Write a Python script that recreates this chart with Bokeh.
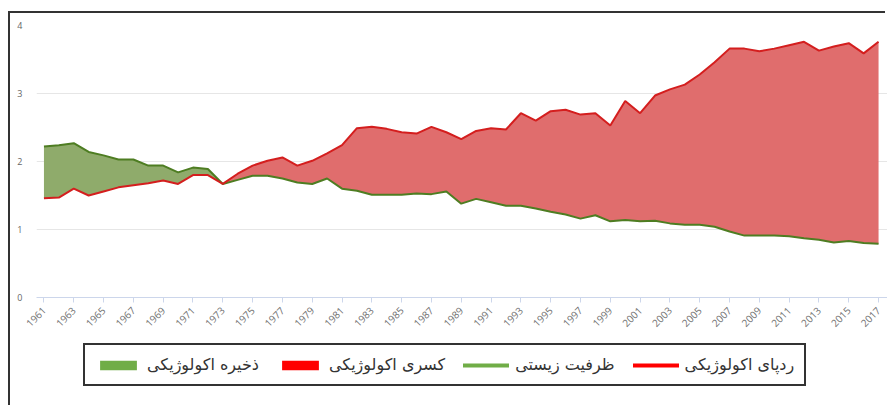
import math
from bokeh.plotting import figure
from bokeh.layouts import column
from bokeh.models import Range1d, FixedTicker, Legend, LegendItem, ColumnDataSource
from bokeh.embed import file_html
from bokeh.resources import INLINE

years = list(range(1961, 2018))
footprint = [1.46, 1.47, 1.60, 1.50, 1.56, 1.62, 1.65, 1.68, 1.72, 1.67,
             1.80, 1.80, 1.67, 1.82, 1.94, 2.01, 2.06, 1.94, 2.01, 2.12,
             2.24, 2.49, 2.51, 2.48, 2.43, 2.41, 2.51, 2.43, 2.33, 2.45,
             2.49, 2.47, 2.71, 2.60, 2.74, 2.76, 2.69, 2.71, 2.53, 2.89,
             2.71, 2.97, 3.06, 3.13, 3.28, 3.46, 3.66, 3.66, 3.62, 3.66,
             3.71, 3.76, 3.63, 3.69, 3.74, 3.59, 3.76]
biocapacity = [2.22, 2.24, 2.27, 2.14, 2.09, 2.03, 2.03, 1.94, 1.94, 1.84,
               1.91, 1.89, 1.67, 1.73, 1.79, 1.79, 1.75, 1.69, 1.67, 1.75,
               1.60, 1.57, 1.51, 1.51, 1.51, 1.53, 1.52, 1.56, 1.38, 1.45,
               1.40, 1.35, 1.35, 1.31, 1.26, 1.22, 1.16, 1.21, 1.12, 1.14,
               1.12, 1.13, 1.09, 1.07, 1.07, 1.04, 0.97, 0.91, 0.91, 0.91,
               0.90, 0.87, 0.85, 0.81, 0.83, 0.80, 0.79]
tick_years = list(range(1961, 2018, 2))
y_ticks = [0, 1, 2, 3, 4]

label_reserve = "ذخیره اکولوژیکی"
label_deficit = "کسری اکولوژیکی"
label_biocap = "ظرفیت زیستی"
label_footprint = "ردپای اکولوژیکی"

upper = [max(a, b) for a, b in zip(footprint, biocapacity)]
src = ColumnDataSource(dict(x=years, fp=footprint, bc=biocapacity, up=upper))

p = figure(width=877, height=320, x_range=Range1d(1960.5, 2017.6), y_range=Range1d(0, 4),
           output_backend="svg", toolbar_location=None,
           min_border_left=26, min_border_right=0, min_border_top=12, min_border_bottom=36)
p.outline_line_color = None
p.background_fill_color = "white"
p.border_fill_color = "white"

p.varea(x="x", y1="fp", y2="up", source=src, fill_color="#8fab6b")
p.varea(x="x", y1="bc", y2="up", source=src, fill_color="#e06d6d")
p.line(x="x", y="bc", source=src, line_color="#4e7d22", line_width=2)
p.line(x="x", y="fp", source=src, line_color="#d41e1e", line_width=2)

xa = p.xaxis[0]
xa.ticker = FixedTicker(ticks=tick_years)
xa.axis_line_color = "#ccd6eb"
xa.major_tick_line_color = "#ccd6eb"
xa.major_tick_out = 5
xa.major_tick_in = 0
xa.minor_tick_line_color = None
xa.major_label_orientation = math.pi / 4
xa.major_label_standoff = 6
xa.major_label_text_font = "Open Sans"
xa.major_label_text_font_size = "10px"
xa.major_label_text_color = "#707070"

ya = p.yaxis[0]
ya.ticker = FixedTicker(ticks=y_ticks)
ya.axis_line_color = None
ya.major_tick_line_color = None
ya.minor_tick_line_color = None
ya.major_label_standoff = 8
ya.major_label_text_font = "Open Sans"
ya.major_label_text_font_size = "9px"
ya.major_label_text_color = "#666666"

p.xgrid.grid_line_color = None
p.ygrid.grid_line_color = "#e6e6e6"

# legend panel
nan = float("nan")
pl = figure(width=877, height=74, x_range=Range1d(0, 1), y_range=Range1d(0, 1),
            x_axis_type=None, y_axis_type=None,
            output_backend="svg", toolbar_location=None,
            min_border_left=0, min_border_right=0, min_border_top=0, min_border_bottom=0)
pl.outline_line_color = None
pl.xgrid.grid_line_color = None
pl.ygrid.grid_line_color = None
r1 = pl.quad(left=[nan], right=[nan], top=[nan], bottom=[nan], fill_color="#70ad47", line_color=None)
r2 = pl.quad(left=[nan], right=[nan], top=[nan], bottom=[nan], fill_color="#ff0000", line_color=None)
r3 = pl.line(x=[nan], y=[nan], line_color="#70ad47", line_width=4, line_cap="round")
r4 = pl.line(x=[nan], y=[nan], line_color="#ff0000", line_width=4, line_cap="round")

legend = Legend(items=[LegendItem(label=label_reserve, renderers=[r1]),
                       LegendItem(label=label_deficit, renderers=[r2]),
                       LegendItem(label=label_biocap, renderers=[r3]),
                       LegendItem(label=label_footprint, renderers=[r4])],
                orientation="horizontal", location=(47, 21))
legend.border_line_color = "#333333"
legend.border_line_width = 2
legend.border_line_alpha = 1
legend.background_fill_alpha = 1
legend.label_text_font = "DejaVu Sans"
legend.label_text_font_size = "16px"
legend.label_text_color = "#333333"
legend.label_height = 19
legend.glyph_width = 46
legend.glyph_height = 12
legend.padding = 10
legend.spacing = 18
legend.label_standoff = 6
legend.margin = 0
pl.add_layout(legend)

layout = column(p, pl, spacing=0)
layout.styles = {"margin-top": "13px", "margin-left": "10px",
                 "box-shadow": "-2px -2px 0px 0px #333333"}

open("out.html", "w").write(file_html(layout, INLINE))
